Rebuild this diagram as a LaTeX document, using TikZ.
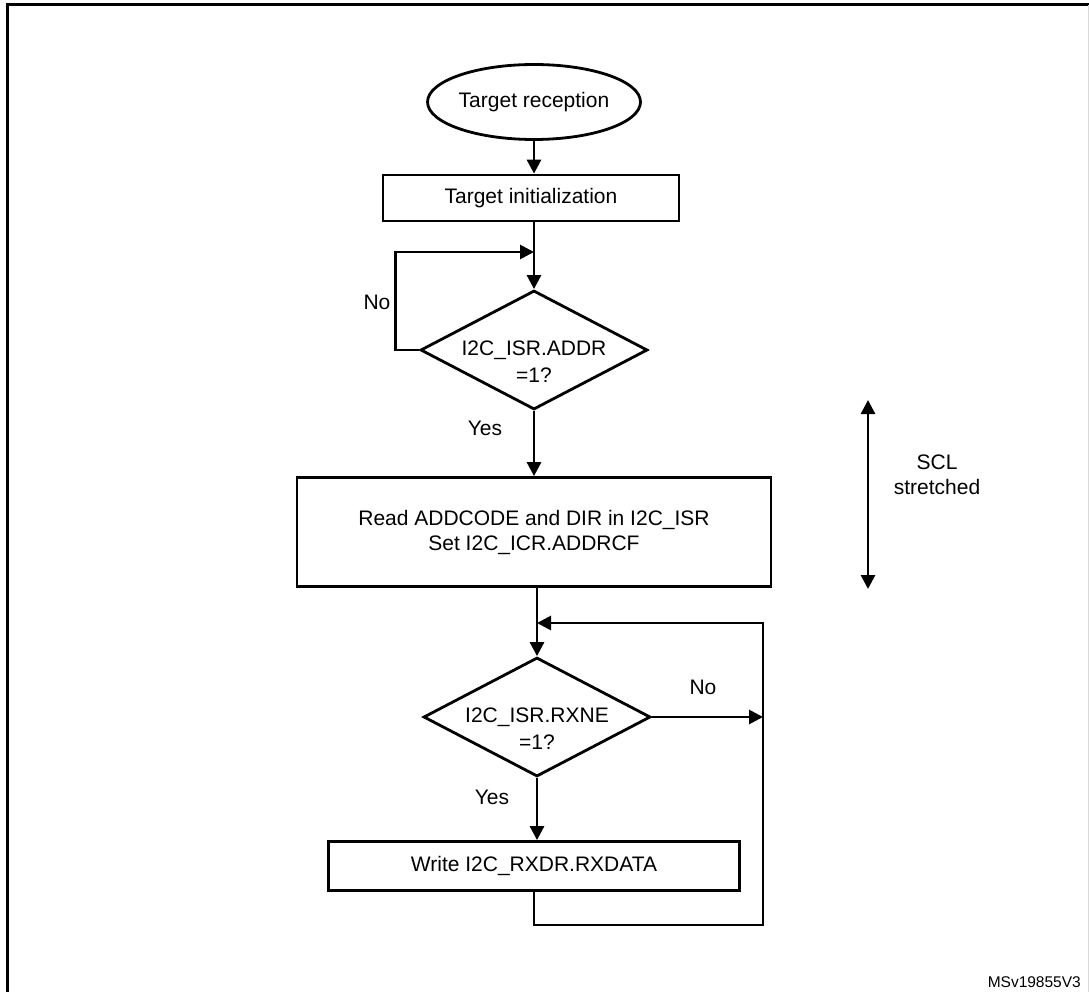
\documentclass[tikz,border=0pt]{standalone}
\usepackage{fontspec}
\setmainfont{Liberation Sans}
\usetikzlibrary{shapes.geometric,arrows.meta}
\tikzset{every node/.style={font=\fontsize{21}{25}\selectfont},
    line/.style={draw,line width=2.8pt},
    arr/.style={line,-{Triangle[length=14pt,width=14pt]}},
    dblarr/.style={line,{Triangle[length=14pt,width=14pt]}-{Triangle[length=14pt,width=14pt]}},
    terminal/.style={draw,line width=2.8pt,ellipse,minimum width=183pt,minimum height=75pt,inner sep=0pt},
    process/.style={draw,line width=2.8pt,rectangle,align=center,inner sep=0pt},
    decision/.style={draw,line width=2.8pt,diamond,inner sep=0pt,minimum width=227pt,minimum height=119pt},
    note/.style={align=center,inner sep=0pt},
    asktext/.style={note,font=\fontsize{21}{27}\selectfont,yshift=-12pt}}

\begin{document}
\begin{tikzpicture}[x=1pt,y=-1pt]
    \useasboundingbox (0,0) rectangle (1089,992);
    % frame
    \draw[line width=3pt] (7,1000) -- (7,5) -- (1095,5);
    \draw[black!15,line width=1pt] (1088,5) -- (1088,1000);

    \node[terminal] (start) at (534,102) {Target reception};
    \node[process,minimum width=296pt,minimum height=46pt] (init) at (531,198) {Target initialization};
    \node[decision,label={[asktext]center:I2C\_ISR.ADDR\\=1?}] (addr) at (534,350) {};
    \node[process,minimum width=474pt,minimum height=109pt] (read) at (534,532)
        {Read ADDCODE and DIR in I2C\_ISR\\Set I2C\_ICR.ADDRCF};
    \node[decision,label={[asktext]center:I2C\_ISR.RXNE\\=1?}] (rxne) at (537,717) {};
    \node[process,minimum width=411pt,minimum height=49pt] (write) at (534,866) {Write I2C\_RXDR.RXDATA};

    \coordinate (loopA) at (534,252);
    \coordinate (loopB) at (537,623);
    \coordinate (loopC) at (763,717);
    \coordinate (loopD) at (763,925);

    \draw[arr] (start) -- (start |- init.north);
    \draw[arr] (init.south -| addr) -- (addr.north);
    \draw[arr] (addr.west) -- ++(-24,0) |- (loopA);
    \draw[arr] (addr.south) -- (read.north -| addr);
    \draw[arr] (read.south -| rxne) -- (rxne.north);
    \draw[arr] (rxne.east) -- (loopC);
    \draw[arr] (rxne.south) -- (write.north -| rxne);
    \draw[arr] (write.south -| loopA) |- (loopD) -- (loopD |- loopB) -- (loopB);

    \node[note] (no1) at (377,302) {No};
    \node[note] (yes1) at (485,428) {Yes};
    \node[note] (no2) at (703,687) {No};
    \node[note] (yes2) at (492,797) {Yes};

    % SCL stretched
    \coordinate (sclT) at (868,400);
    \coordinate (sclB) at (868,589);
    \draw[dblarr] (sclT) -- (sclB);
    \node[note] (scl) at (937,475) {SCL\\stretched};

    \node[anchor=base east,font=\fontsize{15.5}{18}\selectfont,inner sep=0pt] (ref) at (1081,987) {MSv19855V3};
\end{tikzpicture}
\end{document}
